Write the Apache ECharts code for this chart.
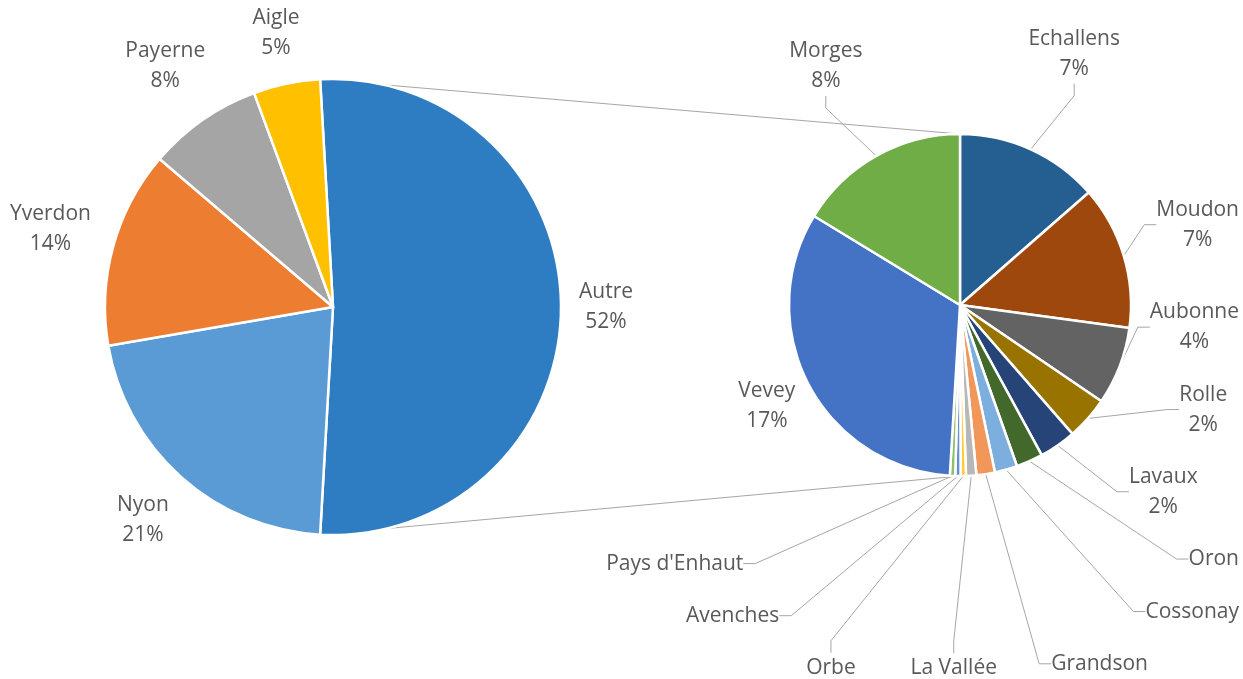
<!DOCTYPE html>
<html><head><meta charset="utf-8">
<script src="https://cdn.jsdelivr.net/npm/echarts@6/dist/echarts.min.js"></script>
<style>html,body{margin:0;padding:0;background:#fff}#c{width:1243px;height:679px}</style>
</head><body><div id="c"></div>
<script>
// Main pie (left)
const mainNames = ['Nyon', 'Yverdon', 'Payerne', 'Aigle'];
const mainValues = [21.3, 13.9, 8.1, 4.7];
const otherName = 'Autre';
// Detail pie (right) = breakdown of "Autre"
const detailNames = ['Echallens', 'Moudon', 'Aubonne', 'Rolle', 'Lavaux', 'Oron', 'Cossonay', 'Grandson', 'La Vallée', 'Orbe', 'Avenches', "Pays d'Enhaut", 'Vevey', 'Morges'];
const detailValues = [7.0, 7.0, 3.8, 2.1, 1.8, 1.3, 1.1, 0.9, 0.5, 0.26, 0.26, 0.26, 16.9, 8.4];

const otherColor = '#2E7DC2';
const mainColors = ['#5B9BD5', '#ED7D31', '#A5A5A5', '#FFC000'];
const detailColors = ['#255E91', '#9E480E', '#636363', '#997300', '#264478', '#43682B', '#7CAFDD', '#F1975A', '#B7B7B7', '#FFCD33', '#698ED0', '#8CC168', '#4472C4', '#70AD47'];

const otherValue = detailValues.reduce((a, b) => a + b, 0);
const grandTotal = otherValue + mainValues.reduce((a, b) => a + b, 0);
const pctNum = v => Math.round(v / grandTotal * 100);

// layout constants
const W = 1243, H = 679;
const LEFT_C = [333, 307], LEFT_R = 228, LEFT_GAP = 18;
const RIGHT_C = [960, 305], RIGHT_R = 171, RIGHT_GAP = 58, OUTER_RING = 385;
const PAD_X = 50, PAD_Y = 22;
const FONT_SIZE = 21, LINE_H = 30;
const FONT = '"Open Sans", sans-serif';
const TXT = '#595959';

const leftData = [{ name: otherName, value: otherValue, itemStyle: { color: otherColor } }]
  .concat(mainNames.map((n, i) => ({ name: n, value: mainValues[i], itemStyle: { color: mainColors[i] } })));
// the "Autre" slice is centred on 3 o'clock
const leftStart = otherValue / grandTotal * 180;
function midAngles(values, startDeg) {  // clockwise from 12 o'clock
  const tot = values.reduce((a, b) => a + b, 0); let acc = 0;
  return values.map(v => { const a0 = acc; acc += v; return startDeg + (a0 + acc) / 2 / tot * 360; });
}
const leftMid = midAngles(leftData.map(d => d.value), 90 - leftStart);

function support(th, w, h) {
  const r = th * Math.PI / 180; return Math.abs(Math.sin(r)) * w / 2 + Math.abs(Math.cos(r)) * h / 2;
}
function placeAt(c, R, th, w, h) {
  const r = th * Math.PI / 180;
  let x = c[0] + Math.sin(r) * R, y = c[1] - Math.cos(r) * R;
  x = Math.min(Math.max(x, w / 2 + 2), W - w / 2 - 2);
  y = Math.min(Math.max(y, h / 2 + 2), H - h / 2 + 4);
  return { x, y };
}

// ---- right pie label placement
const rightLines = detailNames.map((n, i) => pctNum(detailValues[i]) >= 2 ? [n, pctNum(detailValues[i]) + '%'] : [n]);
const cv = document.createElement('canvas').getContext('2d');
cv.font = FONT_SIZE + 'px ' + FONT;
const rightBox = rightLines.map(ls => ({ w: Math.max(...ls.map(t => cv.measureText(t).width)) + 4, h: ls.length * LINE_H }));
// labels with a percentage go next to the pie; name-only labels go on an outer ring
const rightRadius = (i, th) => {
  if (detailNames[i] === 'Vevey') return RIGHT_R + 6 + support(th, rightBox[i].w, rightBox[i].h);
  return rightLines[i].length > 1 ? RIGHT_R + RIGHT_GAP + support(th, rightBox[i].w, rightBox[i].h) : OUTER_RING;
};
const rightTh = midAngles(detailValues, 0);
(function spread() {
  const n = rightTh.length;
  for (let it = 0; it < 10000; it++) {
    let moved = false;
    const P = rightTh.map((t, i) => placeAt(RIGHT_C, rightRadius(i, t), t, rightBox[i].w, rightBox[i].h));
    for (let a = 0; a < n; a++) for (let b = a + 1; b < n; b++) {
      const ov = Math.abs(P[a].x - P[b].x) < (rightBox[a].w + rightBox[b].w) / 2 + PAD_X &&
                 Math.abs(P[a].y - P[b].y) < (rightBox[a].h + rightBox[b].h) / 2 + PAD_Y;
      if (!ov) continue;
      moved = true;
      if (b - a < n / 2) { rightTh[a] -= 0.1; rightTh[b] += 0.1; } else { rightTh[a] += 0.1; rightTh[b] -= 0.1; }
    }
    if (!moved) break;
  }
})();
const rightPos = rightTh.map((t, i) => placeAt(RIGHT_C, rightRadius(i, t), t, rightBox[i].w, rightBox[i].h));

const rightData = detailNames.map((n, i) => {
  const d = { name: n, value: detailValues[i], itemStyle: { color: detailColors[i] } };
  if (n === 'Vevey') d.labelLine = { show: false };
  return d;
});

const chart = echarts.init(document.getElementById('c'), null, { renderer: 'canvas' });
chart.setOption({
  animation: false,
  backgroundColor: '#fff',
  series: [
    {
      type: 'pie', center: LEFT_C, radius: LEFT_R, startAngle: leftStart, clockwise: true,
      data: leftData, silent: true, z: 3,
      itemStyle: { borderColor: '#fff', borderWidth: 2.5 },
      label: {
        show: true, position: 'outside', fontFamily: FONT, fontSize: FONT_SIZE, color: TXT, lineHeight: LINE_H,
        formatter: p => p.name + '\n' + pctNum(p.value) + '%'
      },
      labelLine: { show: false, length: 10, length2: 0 },
      labelLayout: params => {
        const th = leftMid[params.dataIndex], w = params.labelRect.width, h = params.labelRect.height;
        const p = placeAt(LEFT_C, LEFT_R + LEFT_GAP + support(th, w, h), th, w, h);
        return { x: p.x, y: p.y, align: 'center', verticalAlign: 'middle' };
      }
    },
    {
      type: 'pie', center: RIGHT_C, radius: RIGHT_R, startAngle: 90, clockwise: true,
      data: rightData, silent: true, z: 3,
      itemStyle: { borderColor: '#fff', borderWidth: 2.5 },
      label: {
        show: true, position: 'outside', overflow: 'none', fontFamily: FONT, fontSize: FONT_SIZE, color: TXT, lineHeight: LINE_H,
        formatter: p => rightLines[p.dataIndex].map(t => '{n|' + t + '}').join('\n'),
        rich: { n: { align: 'center', fontFamily: FONT, fontSize: FONT_SIZE, color: TXT, lineHeight: LINE_H } }
      },
      labelLine: { show: true, length: 20, length2: 12, lineStyle: { color: '#A6A6A6', width: 1 } },
      labelLayout: params => {
        const p = rightPos[params.dataIndex];
        return { x: p.x, y: p.y, align: 'center', verticalAlign: 'middle' };
      }
    }
  ]
});

// connector lines between the "Autre" slice and the detail pie
const model = chart.getModel();
const lay = model.getSeriesByIndex(0).getData().getItemLayout(0);
const lay2 = model.getSeriesByIndex(1).getData().getItemLayout(0);
const p1 = [lay.cx + lay.r * Math.cos(lay.startAngle), lay.cy + lay.r * Math.sin(lay.startAngle)];
const p2 = [lay.cx + lay.r * Math.cos(lay.endAngle), lay.cy + lay.r * Math.sin(lay.endAngle)];
chart.setOption({
  graphic: [
    { type: 'line', z: 0, shape: { x1: p1[0], y1: p1[1], x2: lay2.cx, y2: lay2.cy - lay2.r }, style: { stroke: '#A6A6A6', lineWidth: 1 } },
    { type: 'line', z: 0, shape: { x1: p2[0], y1: p2[1], x2: lay2.cx, y2: lay2.cy + lay2.r }, style: { stroke: '#A6A6A6', lineWidth: 1 } }
  ]
});
</script>
</body></html>
